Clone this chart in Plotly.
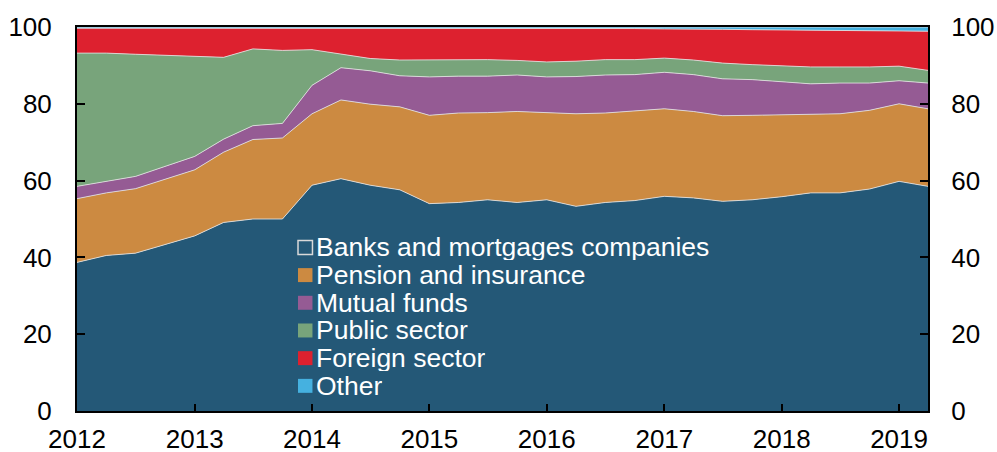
import pandas as pd
import plotly.graph_objects as go

# quarterly shares of holdings, % of total
DATES = pd.date_range("2012-01-01", periods=30, freq="QS")

BANKS = [38.7, 40.5, 41.1, 43.3, 45.6, 49.1, 50.0, 50.0, 58.8, 60.5,
         58.8, 57.6, 54.0, 54.3, 55.0, 54.3, 55.0, 53.3, 54.3, 54.8,
         55.9, 55.5, 54.6, 55.0, 55.8, 56.8, 56.8, 57.8, 59.8, 58.5]
PENSION = [16.6, 16.3, 16.8, 17.1, 17.2, 18.3, 20.7, 21.1, 18.6, 20.5,
           21.1, 21.6, 23.0, 23.3, 22.7, 23.7, 22.7, 24.1, 23.3, 23.4,
           22.8, 22.5, 22.3, 22.0, 21.3, 20.4, 20.6, 20.5, 20.2, 20.2]
MUTUAL = [3.2, 3.0, 3.2, 3.3, 3.5, 3.4, 3.6, 3.8, 7.4, 8.4,
          8.7, 8.1, 10.0, 9.6, 9.5, 9.5, 9.3, 9.7, 9.9, 9.4,
          9.5, 9.6, 9.6, 9.3, 8.6, 8.0, 8.0, 7.1, 6.0, 6.7]
PUBLIC = [34.7, 33.4, 31.8, 28.9, 26.1, 21.3, 20.0, 19.0, 9.3, 3.6,
          3.2, 4.1, 4.5, 4.3, 4.3, 3.8, 3.9, 4.0, 4.0, 3.9,
          3.7, 3.8, 4.1, 3.9, 4.1, 4.4, 4.2, 4.2, 3.8, 3.3]
FOREIGN = [6.5, 6.5, 6.8, 7.1, 7.3, 7.6, 5.4, 5.8, 5.6, 6.7,
           7.8, 8.2, 8.1, 8.1, 8.1, 8.3, 8.7, 8.5, 8.1, 8.1,
           7.6, 8.1, 8.8, 9.1, 9.4, 9.6, 9.5, 9.5, 9.2, 10.2]
OTHER = [0.3, 0.3, 0.3, 0.3, 0.3, 0.3, 0.3, 0.3, 0.3, 0.3,
         0.4, 0.4, 0.4, 0.4, 0.4, 0.4, 0.4, 0.4, 0.4, 0.4,
         0.5, 0.5, 0.6, 0.7, 0.8, 0.8, 0.9, 0.9, 1.0, 1.1]

NAMES = ["Banks and mortgages companies", "Pension and insurance", "Mutual funds",
         "Public sector", "Foreign sector", "Other"]
SERIES = [BANKS, PENSION, MUTUAL, PUBLIC, FOREIGN, OTHER]
COLORS = ["#245877", "#CC8A41", "#955B94", "#78A47B", "#DD212F", "#45B1E0"]

FONT = "Liberation Sans, Arial, sans-serif"
INK = "black"

fig = go.Figure()
for name, vals, col in zip(NAMES, SERIES, COLORS):
    fig.add_trace(go.Scatter(
        x=DATES, y=vals, name=name, stackgroup="one", mode="lines",
        fillcolor=col, line=dict(width=1, color="rgba(225,225,225,0.85)"),
        showlegend=False, hoverinfo="x+y+name"))

# invisible copy on y2 so the right-hand axis gets drawn
fig.add_trace(go.Scatter(x=DATES, y=BANKS, yaxis="y2", mode="lines", opacity=0,
                         showlegend=False, hoverinfo="skip"))

# legend drawn inside the banks area, excel style: square swatch + white text
row_top, row_step = 0.426, 0.0721
sw_x0, sw_x1 = 0.2597, 0.2767
for k, (name, col) in enumerate(zip(NAMES, COLORS)):
    yc = row_top - k * row_step
    edge = dict(color="#d9d9d9", width=1.5) if k == 0 else dict(width=0)
    fig.add_shape(type="rect", xref="paper", yref="paper",
                  x0=sw_x0, x1=sw_x1, y0=yc - 0.0182, y1=yc + 0.0182,
                  fillcolor=col, line=edge, layer="above")
    fig.add_annotation(xref="paper", yref="paper", x=0.2785, y=yc, height=26,
                       xanchor="left", yanchor="middle", showarrow=False,
                       text=name, font=dict(family=FONT, size=26.5, color="white"))

yax = dict(range=[0, 100], dtick=20, ticks="inside", ticklen=8, tickwidth=2,
           tickcolor=INK, showgrid=False, zeroline=False, showline=True,
           linecolor=INK, linewidth=2, tickfont=dict(family=FONT, size=26, color=INK),
           ticklabelstandoff=18, automargin=False)

fig.update_layout(
    width=997, height=452, template="plotly_white",
    plot_bgcolor="white", paper_bgcolor="white",
    margin=dict(l=77, r=69, t=27, b=41),
    showlegend=False,
    xaxis=dict(type="date", range=[DATES[0], DATES[-1]], dtick="M12", tickformat="%Y",
               ticks="inside", ticklen=7, tickwidth=2, tickcolor=INK,
               showgrid=False, zeroline=False, showline=True, mirror=True,
               linecolor=INK, linewidth=2, automargin=False, ticklabelstandoff=4,
               tickfont=dict(family=FONT, size=26, color=INK)),
    yaxis=dict(yax, mirror=True),
    yaxis2=dict(yax, overlaying="y", side="right", anchor="x", ticklabelstandoff=16),
)

# drop the browser's default 8px body margin so the figure fills the window
fig.write_html("out.html", config={"displayModeBar": False},
               post_script="document.body.style.margin = '0';")
